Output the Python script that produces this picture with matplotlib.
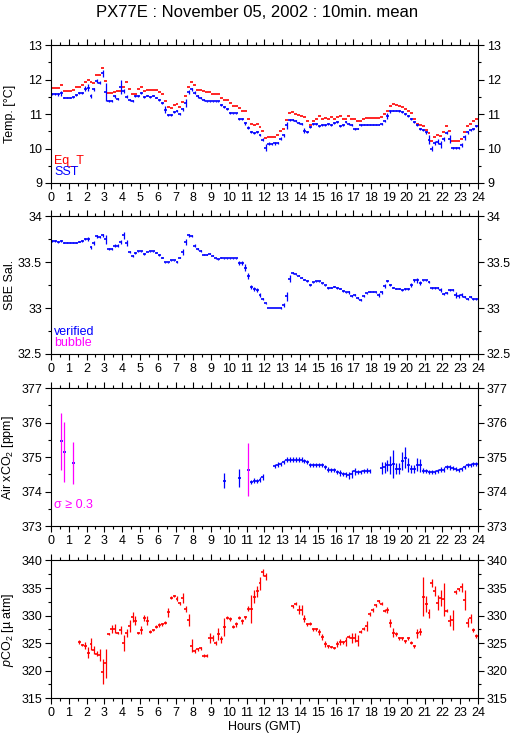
import numpy as np
import matplotlib
matplotlib.use('Agg')
import matplotlib.pyplot as plt
from matplotlib.ticker import FormatStrFormatter, MultipleLocator

plt.rcParams['font.family'] = ['Liberation Sans', 'DejaVu Sans']
plt.rcParams['mathtext.fontset'] = 'custom'
plt.rcParams['mathtext.rm'] = 'Liberation Sans'
plt.rcParams['mathtext.it'] = 'Liberation Sans:italic'

nan = np.nan

# 10-minute means, one row per hour (GMT)
eq_t = [
    11.77, 11.77, 11.77, 11.83, 11.67, 11.67,
    11.67, 11.70, 11.79, 11.79, 11.84, 11.93,
    11.99, 11.94, 11.90, 12.12, 12.12, 12.35,
    11.96, 11.60, 11.60, 11.65, 11.67, 11.67,
    11.79, 11.92, 11.72, 11.59, 11.59, 11.72,
    11.79, 11.66, 11.70, 11.71, 11.71, 11.69,
    11.65, 11.58, 11.38, 11.20, 11.17, 11.25,
    11.28, 11.20, 11.34, 11.52, 11.78, 11.92,
    11.83, 11.71, 11.69, 11.66, 11.63, 11.63,
    11.58, 11.58, 11.58, 11.48, 11.40, 11.40,
    11.33, 11.23, 11.23, 11.19, 11.08, 11.08,
    10.86, 10.70, 10.68, 10.70, 10.62, 10.50,
    10.30, 10.33, 10.32, 10.32, 10.38, 10.50,
    10.57, 10.82, 11.02, 11.05, 11.01, 10.98,
    10.95, 10.91, 10.79, 10.67, 10.80, 10.87,
    10.93, 10.85, 10.89, 10.86, 10.92, 10.87,
    10.92, 10.94, 10.85, 10.87, 10.94, 10.86,
    10.86, 10.79, 10.79, 10.85, 10.88, 10.88,
    10.88, 10.88, 10.88, 10.91, 10.99, 11.08,
    11.23, 11.28, 11.26, 11.24, 11.20, 11.15,
    11.10, 11.02, 10.87, 10.72, 10.69, 10.64,
    10.55, 10.44, 10.22, 10.32, 10.40, 10.37,
    10.49, 10.65, 10.51, 10.23, 10.21, 10.21,
    10.27, 10.49, 10.64, 10.72, 10.79, 10.85,
]

sst = [
    11.57, 11.57, 11.57, 11.60, 11.48, 11.48,
    11.48, 11.50, 11.55, 11.60, 11.60, 11.74,
    11.76, 11.53, 11.72, 11.96, 11.91, 12.18,
    11.65, 11.38, 11.38, 11.51, 11.45, 11.79,
    11.67, 11.50, 11.41, 11.38, 11.52, 11.53,
    11.60, 11.50, 11.53, 11.49, 11.53, 11.48,
    11.40, 11.33, 11.12, 10.97, 10.97, 11.05,
    11.09, 11.00, 11.14, 11.32, 11.63, 11.72,
    11.62, 11.51, 11.47, 11.41, 11.37, 11.37,
    11.37, 11.37, 11.37, 11.25, 11.20, 11.14,
    11.02, 11.02, 11.02, 10.86, 10.87, 10.73,
    10.60, 10.47, 10.45, 10.47, 10.39, 10.26,
    10.02, 10.14, 10.13, 10.15, 10.17, 10.28,
    10.38, 10.67, 10.84, 10.84, 10.80, 10.75,
    10.70, 10.52, 10.47, 10.63, 10.70, 10.72,
    10.66, 10.67, 10.68, 10.71, 10.67, 10.74,
    10.76, 10.66, 10.68, 10.77, 10.71, 10.67,
    10.58, 10.58, 10.68, 10.69, 10.69, 10.69,
    10.69, 10.69, 10.69, 10.72, 10.81, 10.94,
    11.08, 11.10, 11.10, 11.09, 11.05, 11.00,
    10.95, 10.87, 10.77, 10.68, 10.57, 10.54,
    10.47, 10.25, 10.00, 10.15, 10.20, 10.12,
    10.27, 10.46, 10.27, 10.01, 10.01, 10.01,
    10.10, 10.32, 10.47, 10.54, 10.58, 10.66,
]

sst_err = [
    0.03, 0.03, 0.05, 0.08, 0.02, 0.02,
    0.02, 0.02, 0.03, 0.03, 0.03, 0.06,
    0.10, 0.06, 0.04, 0.05, 0.04, 0.10,
    0.26, 0.02, 0.02, 0.03, 0.03, 0.20,
    0.05, 0.04, 0.03, 0.03, 0.03, 0.03,
    0.03, 0.03, 0.02, 0.02, 0.02, 0.02,
    0.03, 0.03, 0.10, 0.02, 0.02, 0.03,
    0.03, 0.04, 0.04, 0.12, 0.06, 0.04,
    0.05, 0.03, 0.03, 0.03, 0.02, 0.02,
    0.02, 0.02, 0.02, 0.03, 0.03, 0.03,
    0.03, 0.02, 0.02, 0.03, 0.03, 0.04,
    0.04, 0.03, 0.03, 0.03, 0.04, 0.05,
    0.10, 0.05, 0.04, 0.04, 0.03, 0.04,
    0.04, 0.10, 0.03, 0.03, 0.03, 0.03,
    0.03, 0.08, 0.03, 0.03, 0.03, 0.03,
    0.03, 0.03, 0.03, 0.03, 0.03, 0.03,
    0.03, 0.03, 0.03, 0.03, 0.04, 0.03,
    0.03, 0.02, 0.03, 0.02, 0.02, 0.02,
    0.02, 0.02, 0.02, 0.03, 0.03, 0.08,
    0.04, 0.02, 0.02, 0.02, 0.03, 0.03,
    0.03, 0.03, 0.04, 0.04, 0.04, 0.03,
    0.04, 0.13, 0.08, 0.06, 0.08, 0.10,
    0.05, 0.04, 0.12, 0.02, 0.02, 0.03,
    0.05, 0.08, 0.04, 0.04, 0.03, 0.03,
]

sal = [
    33.73, 33.73, 33.72, 33.73, 33.71, 33.71,
    33.71, 33.71, 33.71, 33.72, 33.73, 33.75,
    33.75, 33.66, 33.71, 33.78, 33.77, 33.79,
    33.75, 33.64, 33.64, 33.68, 33.68, 33.72,
    33.79, 33.71, 33.61, 33.57, 33.60, 33.62,
    33.62, 33.59, 33.61, 33.62, 33.62, 33.60,
    33.58, 33.55, 33.50, 33.50, 33.52, 33.52,
    33.50, 33.55, 33.61, 33.72, 33.79, 33.78,
    33.68, 33.64, 33.62, 33.58, 33.58, 33.59,
    33.57, 33.54, 33.53, 33.55, 33.54, 33.54,
    33.54, 33.54, 33.54, 33.49, 33.49, 33.44,
    33.35, 33.23, 33.21, 33.20, 33.14, 33.10,
    33.05, 33.00, 33.00, 33.00, 33.00, 33.00,
    33.03, 33.13, 33.32, 33.38, 33.37, 33.35,
    33.33, 33.31, 33.29, 33.25, 33.28, 33.29,
    33.29, 33.27, 33.25, 33.22, 33.22, 33.23,
    33.22, 33.21, 33.19, 33.17, 33.17, 33.13,
    33.14, 33.11, 33.09, 33.13, 33.16, 33.18,
    33.18, 33.17, 33.14, 33.17, 33.24, 33.29,
    33.25, 33.22, 33.21, 33.21, 33.20, 33.21,
    33.21, 33.25, 33.30, 33.30, 33.27, 33.30,
    33.30, 33.28, 33.22, 33.22, 33.22, 33.20,
    33.15, 33.16, 33.20, 33.20, 33.14, 33.13,
    33.14, 33.12, 33.10, 33.12, 33.10, 33.10,
]

sal_err = [
    0.01, 0.01, 0.01, 0.01, 0.005, 0.005,
    0.005, 0.005, 0.005, 0.005, 0.01, 0.01,
    0.02, 0.02, 0.02, 0.02, 0.01, 0.02,
    0.05, 0.01, 0.01, 0.02, 0.02, 0.02,
    0.04, 0.03, 0.01, 0.01, 0.01, 0.005,
    0.005, 0.01, 0.005, 0.005, 0.005, 0.005,
    0.01, 0.01, 0.005, 0.005, 0.005, 0.005,
    0.01, 0.01, 0.03, 0.03, 0.02, 0.01,
    0.02, 0.01, 0.01, 0.005, 0.005, 0.005,
    0.005, 0.005, 0.005, 0.005, 0.005, 0.005,
    0.005, 0.005, 0.01, 0.02, 0.02, 0.04,
    0.03, 0.02, 0.02, 0.02, 0.02, 0.01,
    0.01, 0.005, 0.005, 0.005, 0.005, 0.01,
    0.02, 0.05, 0.04, 0.01, 0.005, 0.005,
    0.005, 0.01, 0.01, 0.01, 0.005, 0.005,
    0.005, 0.005, 0.005, 0.01, 0.005, 0.005,
    0.01, 0.005, 0.01, 0.01, 0.02, 0.01,
    0.01, 0.01, 0.01, 0.01, 0.005, 0.005,
    0.01, 0.01, 0.02, 0.02, 0.02, 0.01,
    0.01, 0.005, 0.005, 0.005, 0.01, 0.01,
    0.01, 0.02, 0.02, 0.03, 0.02, 0.01,
    0.01, 0.01, 0.01, 0.01, 0.01, 0.02,
    0.01, 0.01, 0.01, 0.01, 0.03, 0.02,
    0.02, 0.01, 0.01, 0.01, 0.01, 0.01,
]

air = [
    nan, nan, nan, 375.46, 375.15, nan,
    nan, 374.83, nan, nan, nan, nan,
    nan, nan, nan, nan, nan, nan,
    nan, nan, nan, nan, nan, nan,
    nan, nan, nan, nan, nan, nan,
    nan, nan, nan, nan, nan, nan,
    nan, nan, nan, nan, nan, nan,
    nan, nan, nan, nan, nan, nan,
    nan, nan, nan, nan, nan, nan,
    nan, nan, nan, nan, 374.31, nan,
    nan, nan, nan, 374.40, nan, nan,
    374.64, 374.29, 374.32, 374.30, 374.35, 374.43,
    nan, nan, nan, 374.75, 374.78, 374.79,
    374.85, 374.93, 374.93, 374.93, 374.93, 374.93,
    374.93, 374.89, 374.85, 374.76, 374.76, 374.76,
    374.76, 374.76, 374.71, 374.64, 374.63, 374.63,
    374.57, 374.54, 374.51, 374.50, 374.47, 374.50,
    374.59, 374.57, 374.57, 374.59, 374.61, 374.60,
    nan, nan, nan, 374.69, 374.71, 374.76,
    374.78, 374.80, 374.66, 374.66, 374.88, 374.98,
    374.78, 374.66, 374.66, 374.78, 374.76, 374.61,
    374.59, 374.57, 374.57, 374.57, 374.59, 374.64,
    374.64, 374.72, 374.70, 374.68, 374.65, 374.63,
    374.66, 374.72, 374.76, 374.78, 374.79, 374.79,
]

# standard deviation of the 10-min air xCO2 mean (bars drawn as +-2 sigma)
air_sigma = [
    nan, nan, nan, 0.41, 0.43, nan,
    nan, 0.30, nan, nan, nan, nan,
    nan, nan, nan, nan, nan, nan,
    nan, nan, nan, nan, nan, nan,
    nan, nan, nan, nan, nan, nan,
    nan, nan, nan, nan, nan, nan,
    nan, nan, nan, nan, nan, nan,
    nan, nan, nan, nan, nan, nan,
    nan, nan, nan, nan, nan, nan,
    nan, nan, nan, nan, 0.11, nan,
    nan, nan, nan, 0.13, nan, nan,
    0.39, 0.03, 0.04, 0.03, 0.04, 0.04,
    nan, nan, nan, 0.03, 0.04, 0.03,
    0.03, 0.04, 0.03, 0.03, 0.03, 0.03,
    0.03, 0.03, 0.03, 0.03, 0.03, 0.03,
    0.03, 0.03, 0.03, 0.03, 0.03, 0.03,
    0.03, 0.04, 0.03, 0.04, 0.05, 0.06,
    0.05, 0.03, 0.03, 0.03, 0.03, 0.03,
    nan, nan, nan, 0.09, 0.08, 0.08,
    0.13, 0.20, 0.08, 0.08, 0.13, 0.15,
    0.10, 0.06, 0.06, 0.09, 0.09, 0.03,
    0.03, 0.03, 0.03, 0.03, 0.03, 0.03,
    0.03, 0.03, 0.03, 0.03, 0.03, 0.03,
    0.03, 0.03, 0.03, 0.03, 0.03, 0.03,
]

pco2 = [
    nan, nan, nan, nan, nan, nan,
    nan, nan, nan, 325.17, 324.69, 324.56,
    323.30, 324.87, 323.78, 323.05, 322.80, 319.84,
    321.36, 326.68, 327.53, 327.65, 326.80, 327.40,
    324.99, 326.80, 328.14, 329.71, 329.10, 326.80,
    327.40, 329.53, 329.10, 327.10, 327.40, 328.00,
    328.30, 328.40, 328.70, 330.56, 333.28, 333.60,
    333.04, 332.25, 333.16, 331.20, 329.20, 324.56,
    323.60, 323.90, 324.08, 322.75, 322.70, 325.90,
    325.90, 325.00, 326.68, 325.70, 328.00, 329.65,
    329.40, 328.00, 328.40, 329.65, 329.00, 329.71,
    331.20, 331.20, 333.46, 334.37, 335.88, 337.82,
    337.10, nan, nan, nan, nan, nan,
    nan, nan, nan, 331.65, 332.13, 331.04,
    331.04, 329.40, 328.40, 328.56, 327.53, 327.53,
    327.10, 326.10, 324.87, 324.40, 324.26, 324.08,
    324.87, 325.17, 325.17, 325.30, 326.20, 325.90,
    326.00, 325.47, 327.10, 327.65, 328.14, 330.30,
    331.04, 331.83, 332.56, 332.13, 330.86, 331.04,
    328.60, 326.90, 326.68, 325.90, 325.90, 325.30,
    325.90, 325.10, 324.40, 326.80, 327.10, 333.46,
    332.13, 330.44, 335.88, 334.49, 332.37, 333.16,
    332.98, 330.92, 329.10, 329.20, 334.30, 334.79,
    335.16, 332.86, 328.74, 329.53, 327.40, 326.32,
]

pco2_err = [
    nan, nan, nan, nan, nan, nan,
    nan, nan, nan, 0.40, 0.20, 0.60,
    1.05, 1.05, 0.70, 0.45, 1.05, 2.20,
    2.60, 0.15, 0.75, 0.80, 0.20, 0.75,
    1.50, 0.75, 1.05, 0.85, 0.80, 0.20,
    0.75, 0.60, 0.75, 0.30, 0.20, 0.30,
    0.30, 0.20, 0.30, 0.75, 0.20, 0.20,
    0.45, 0.30, 0.90, 0.60, 1.05, 1.20,
    0.30, 0.30, 0.30, 0.30, 0.30, 0.90,
    0.60, 0.30, 1.05, 0.60, 1.65, 0.30,
    0.30, 0.30, 0.45, 0.30, 0.45, 0.30,
    0.45, 2.60, 1.20, 1.05, 1.20, 0.60,
    0.60, nan, nan, nan, nan, nan,
    nan, nan, nan, 0.30, 0.30, 0.80,
    0.90, 0.65, 0.20, 0.20, 0.30, 0.30,
    0.55, 0.55, 0.60, 0.20, 0.20, 0.20,
    0.60, 0.50, 0.30, 0.80, 0.30, 0.90,
    0.80, 1.00, 0.30, 0.30, 0.90, 0.30,
    0.30, 0.30, 0.30, 0.30, 0.30, 0.55,
    0.70, 0.80, 0.30, 0.30, 0.30, 0.30,
    0.30, 0.30, 0.30, 0.80, 0.60, 3.60,
    1.40, 0.80, 0.70, 0.90, 1.40, 1.40,
    3.00, 0.30, 1.00, 1.80, 0.30, 0.30,
    0.80, 1.80, 0.90, 0.80, 0.30, 0.30,
]

RED = '#ff0000'
BLUE = '#0000ff'
MAGENTA = '#ff00ff'


def draw_crosses(ax, vals, errs, color, bar_colors=None, lw=0.9):
    vals = np.asarray(vals, dtype=float)
    t0 = np.arange(len(vals)) / 6.0
    ok = ~np.isnan(vals)
    ax.hlines(vals[ok], t0[ok], t0[ok] + 1 / 6.0, colors=color, lw=lw + 0.3)
    if errs is None:
        return
    errs = np.asarray(errs, dtype=float)
    tc = t0 + 1 / 12.0
    cols = bar_colors if bar_colors is not None else [color] * len(vals)
    cols = np.asarray(cols)
    ax.vlines(tc[ok], vals[ok] - errs[ok], vals[ok] + errs[ok],
              colors=list(cols[ok]), lw=lw)


def style_axes(ax, ylim, major, minor, fmt='%g'):
    ax.set_xlim(0, 24)
    ax.set_ylim(*ylim)
    ax.xaxis.set_major_locator(MultipleLocator(1))
    ax.xaxis.set_minor_locator(MultipleLocator(0.5))
    ax.yaxis.set_major_locator(MultipleLocator(major))
    ax.yaxis.set_minor_locator(MultipleLocator(minor))
    ax.yaxis.set_major_formatter(FormatStrFormatter(fmt))
    ax.tick_params(which='both', direction='out', top=True, bottom=True,
                   left=True, right=True, labelright=True, width=0.8,
                   labelsize=9)
    ax.tick_params(which='major', length=4.5)
    ax.tick_params(which='minor', length=2.5)
    ax.tick_params(axis='x', pad=2)
    ax.tick_params(axis='y', pad=2)
    for s in ax.spines.values():
        s.set_linewidth(0.8)
    ax.yaxis.set_label_coords(-0.082, 0.5)


fig = plt.figure(figsize=(5.15, 7.39), dpi=100)
L, W, H = 0.099, 0.829, 0.1865
ax1 = fig.add_axes([L, 0.7524, W, H])
ax2 = fig.add_axes([L, 0.5210, W, H])
ax3 = fig.add_axes([L, 0.2882, W, H])
ax4 = fig.add_axes([L, 0.0551, W, H])

# temperature
draw_crosses(ax1, eq_t, None, RED)
draw_crosses(ax1, sst, sst_err, BLUE)
style_axes(ax1, (9, 13), 1, 0.5)
ax1.set_ylabel('Temp. [°C]', fontsize=9)
ax1.text(0.007, 0.14, 'Eq_T', color=RED, fontsize=9, transform=ax1.transAxes)
ax1.text(0.007, 0.055, 'SST', color=BLUE, fontsize=9, transform=ax1.transAxes)

# salinity
draw_crosses(ax2, sal, sal_err, BLUE)
style_axes(ax2, (32.5, 34), 0.5, 0.25)
ax2.set_ylabel('SBE Sal.', fontsize=9)
ax2.text(0.007, 0.14, 'verified', color=BLUE, fontsize=9, transform=ax2.transAxes)
ax2.text(0.007, 0.055, 'bubble', color=MAGENTA, fontsize=9, transform=ax2.transAxes)

# air xCO2
sig = np.asarray(air_sigma, dtype=float)
air_cols = [MAGENTA if s >= 0.3 else BLUE for s in np.nan_to_num(sig)]
draw_crosses(ax3, air, 2 * sig, BLUE, bar_colors=air_cols)
style_axes(ax3, (373, 377), 1, 0.5)
ax3.set_ylabel('Air xCO$_2$ [ppm]', fontsize=9)
ax3.text(0.007, 0.13, 'σ ≥ 0.3', color=MAGENTA, fontsize=9,
         transform=ax3.transAxes)

# pCO2
draw_crosses(ax4, pco2, pco2_err, RED)
style_axes(ax4, (315, 340), 5, 2.5)
ax4.set_ylabel('$p$CO$_2$ [µ atm]', fontsize=9)
ax4.set_xlabel('Hours (GMT)', fontsize=9, labelpad=1)

fig.text(0.5, 0.983, 'PX77E : November 05, 2002 : 10min. mean',
         ha='center', va='center', fontsize=12)

fig.savefig('out.png', dpi=100)
